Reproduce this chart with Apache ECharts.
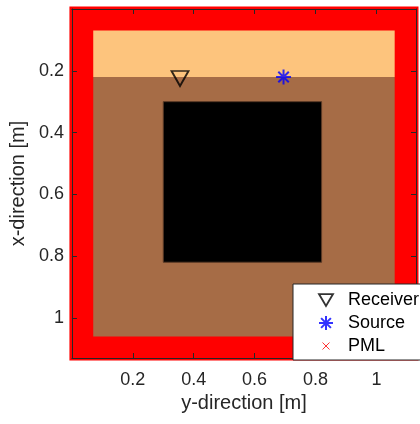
<!DOCTYPE html>
<html><head><meta charset="utf-8">
<script src="https://cdn.jsdelivr.net/npm/echarts@6/dist/echarts.min.js"></script>
<style>html,body{margin:0;padding:0;background:#fff}#c{width:420px;height:424px}</style>
</head><body><div id="c"></div>
<script>
// Domain extents [m]
const domain = [0, 1.13];          // full computational domain incl. PML
const interior = [0.07, 1.06];     // physical region (inside PML)
const layerBoundary = 0.22;        // x-direction depth of upper/lower layer interface
const block = [0.30, 0.82];        // black square inclusion (both directions)
const receiver = [0.355, 0.225];   // [y, x]
const source = [0.695, 0.22];      // [y, x]
const xTicks = [0.2, 0.4, 0.6, 0.8, 1];

// rectangles: [y0, y1, x0, x1, kind]
const rects = [
  [domain[0], domain[1], domain[0], domain[1], 'pml'],
  [interior[0], interior[1], interior[0], layerBoundary, 'top'],
  [interior[0], interior[1], layerBoundary, interior[1], 'bottom'],
  [block[0], block[1], block[0], block[1], 'block']
];
const fills = {pml:'#ff0000', top:'#fdc47d', bottom:'#a66c46', block:'#000000'};

const FONT = 'Liberation Sans';
const axisCol = '#262626';
const chart = echarts.init(document.getElementById('c'), null, {renderer:'canvas'});

const triPath = 'path://M0,0 L20,0 L10,17 Z';
const starPath = 'path://M10,0 L10,20 M0,10 L20,10 M3,3 L17,17 M17,3 L3,17';
const xPath = 'path://M-4,-4 L-4,-4 M0,0 L8,8 M8,0 L0,8 M12,12 L12,12';

const baseX = {
  type:'value', min:domain[0], max:domain[1], interval:0.2,
  z:5,
  axisLine:{show:true, onZero:false, lineStyle:{color:axisCol, width:1}},
  axisTick:{show:true, inside:true, length:5, lineStyle:{color:axisCol}},
  splitLine:{show:false},
  axisLabel:{show:true, showMinLabel:false, showMaxLabel:false, fontFamily:FONT, fontSize:18, color:axisCol, margin:13},
};

chart.setOption({
  animation:false,
  grid:{left:69, top:9, width:347, height:349, containLabel:false},
  xAxis:[
    Object.assign({}, baseX, {position:'bottom', name:'y-direction [m]', nameLocation:'middle', nameGap:35,
      nameTextStyle:{fontFamily:FONT, fontSize:20, color:axisCol}}),
    Object.assign({}, baseX, {position:'top', axisLabel:{show:false}})
  ],
  yAxis:[
    Object.assign({}, baseX, {inverse:true, position:'left', name:'x-direction [m]', nameLocation:'middle', nameGap:38,
      nameTextStyle:{fontFamily:FONT, fontSize:20, color:axisCol},
      axisLabel:Object.assign({}, baseX.axisLabel, {margin:8})}),
    Object.assign({}, baseX, {inverse:true, position:'right', axisLabel:{show:false}})
  ],
  legend:{
    orient:'vertical', left:293, top:284,
    backgroundColor:'#fff', borderColor:axisCol, borderWidth:1,
    padding:[7, 20, 5, 25], itemGap:5, itemWidth:14, itemHeight:14,
    textStyle:{fontFamily:FONT, fontSize:18, color:'#000', padding:[0,0,0,10]},
    z:20,
    data:[
      {name:'Receiver', icon:triPath, itemStyle:{color:'transparent', borderColor:'#000', borderWidth:1.8}},
      {name:'Source', icon:starPath, itemStyle:{color:'#0000ff', borderColor:'#0000ff', borderWidth:2}},
      {name:'PML', icon:xPath, itemStyle:{color:'#ff0000', borderColor:'#ff0000', borderWidth:0.8}}
    ]
  },
  series:[
    {
      type:'custom', name:'PML', clip:false, z:1,
      data:rects,
      renderItem:function(params, api){
        const r = rects[params.dataIndex];
        const p0 = api.coord([r[0], r[2]]);
        const p1 = api.coord([r[1], r[3]]);
        let x = Math.min(p0[0], p1[0]), y = Math.min(p0[1], p1[1]);
        let w = Math.abs(p1[0]-p0[0]), h = Math.abs(p1[1]-p0[1]);
        const kind = r[4];
        if (kind === 'pml') { x -= 2.5; y -= 2.5; w += 5; h += 5; }
        return {type:'rect', shape:{x:x, y:y, width:w, height:h},
          style:{fill:fills[kind], stroke: kind==='block' ? '#5a3a26' : null, lineWidth: kind==='block'?1:0}};
      },
      encode:{x:[0,1], y:[2,3]}
    },
    {
      type:'scatter', name:'Receiver', z:10, symbol:triPath, symbolSize:[17,15],
      itemStyle:{color:'transparent', borderColor:'#000', borderWidth:1.8},
      data:[receiver]
    },
    {
      type:'scatter', name:'Source', z:10, symbol:starPath, symbolSize:15,
      itemStyle:{color:'#0000ff', borderColor:'#0000ff', borderWidth:2},
      data:[source]
    }
  ]
});
</script></body></html>
